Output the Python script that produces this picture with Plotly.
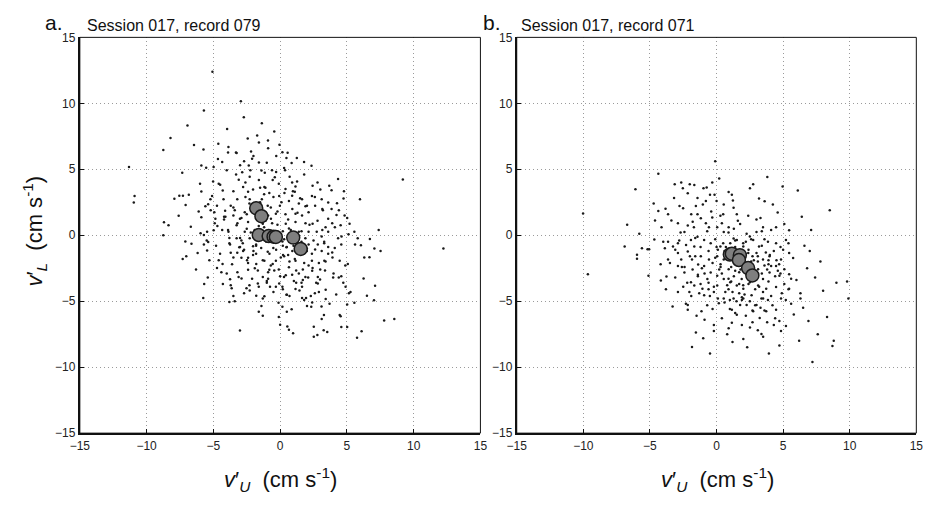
import plotly.graph_objects as go

# ---------------- Panel a: Session 017, record 079 ----------------
a_x = [-5.07,-2.94,-5.71,-2.72,-6.94,-1.37,-8.21,-3.97,-8.75,-6.45,-5.74,-0.44,-2.43,-1.72,-1.59,-0.91,-4.63,-3.87,-3.31,-2.18,
       -0.05,0.17,0.56,-11.32,-10.9,-10.96,9.19,12.23,2.35,1.79,4.34,5.98,7.38,6.72,7.52,7.06,6.69,6.25,7.11,7.03,
       6.5,7.79,8.55,5.76,6.1,5.02,4.58,3.53,3.26,2.79,2.52,2.52,0.97,0.66,0.54,0.0,-3.01,-5.76,-5.69,-5.42,
       -7.3,-7.03,-6.18,-6.64,-7.1,-8.75,-8.7,-8.36,-7.6,-7.92,-7.55,-7.28,-7.08,-6.84,-6.69,-5.9,-5.9,-7.33,-5.9,-4.98,
       -5.54,-4.66,-4.34,-4.0,-3.9,-3.26,-2.84,-2.35,-2.23,-1.59,-1.15,-0.61,-0.29,0.47,0.37,0.86,1.27,0.71,1.25,2.43,
       2.38,3.01,3.68,3.85,4.78,4.75,4.26,3.6,3.16,4.83,4.22,5.02,4.53,3.6,3.16,5.12,5.61,6.05,6.3,5.07,
       4.88,4.58,4.39,3.97,4.73,5.15,5.27,5.56,5.02,4.46,4.53,3.41,3.41,3.28,3.11,2.33,2.01,1.94,1.64,1.15,
       0.86,0.47,0.17,-0.12,-0.32,-0.07,0.29,0.42,-1.4,-1.18,-1.79,-1.67,-2.28,-2.7,-2.52,-3.63,-3.8,-4.29,-3.75,-3.11,
       -2.89,-2.4,-1.67,-1.3,-0.81,-0.56,-4.73,-4.31,-5.47,-5.39,-5.71,-5.96,-5.47,-4.98,-4.85,-4.34,-3.87,-3.75,-3.7,-3.5,
       -3.21,-3.06,-2.77,-2.48,-2.03,-1.79,-1.18,-0.93,-0.51,-0.32,0.05,0.22,0.47,0.91,1.15,0.66,1.2,1.03,1.89,2.13,
       2.38,2.38,2.62,2.82,3.11,3.31,3.6,3.92,4.09,4.58,4.34,3.11,2.13,1.89,2.43,2.13,2.01,1.64,0.91,0.66,
       -0.02,-0.32,-0.07,0.32,0.96,1.15,1.64,-0.81,-1.18,-0.56,-1.59,-2.28,-2.77,-3.5,-3.21,-3.7,-4.12,-3.5,-3.01,-3.26,
       -2.4,-2.65,-2.28,-2.03,-1.37,-0.93,-0.69,-1.3,0.42,0.66,1.15,1.4,-4.73,-4.93,-5.22,-5.39,-5.1,-4.49,-5.02,-4.24,
       -5.71,-3.26,-2.28,-2.65,-2.03,-1.42,-1.05,0.17,0.66,2.13,2.74,3.6,3.85,3.11,2.62,1.15,-0.81,5.56,5.2,5.81,
       4.46,3.36,2.82,2.82,2.99,2.43,1.64,1.45,0.51,-0.44,-1.0,-0.76,0.17,
       -1.2,-0.6,0.3,-2.5,-1.8,0.8,1.6,-0.3,1.2,-2.9,-3.4,-1.5,0.4,1.9,2.9,-0.9,-2.1,0.9,1.7,-4.5,
       -4.2,3.4,2.6,-2.6,-1.0,1.8,-0.1,-3.0,0.2,-0.7,
       -4.6,-4.1,-3.8,-3.3,-2.9,-2.6,-2.2,-1.9,-1.5,-1.1,-0.8,-0.4,0.1,0.5,0.9,1.3,1.8,2.2,2.7,3.2,
       -4.4,-3.9,-3.5,-3.0,-2.5,-2.0,-1.6,-1.2,-0.7,-0.2,0.3,0.8,1.4,1.9,2.5,3.0,3.6,4.1,-5.2,-4.8,
       -4.3,-3.6,-3.1,-2.7,-2.3,-1.7,-1.3,-0.9,-0.5,0.0,0.6,1.1,1.6,2.1,2.8,3.4,4.0,4.6,-5.5,-6.1,
       -3.7,-3.2,-2.8,-2.4,-1.8,-1.4,-1.0,-0.6,-0.1,0.4,1.0,1.5,2.0,2.6,3.3,3.9,-4.0,-4.7,-5.3,-6.0,
       -2.1,-1.6,-0.3,0.7,1.7,2.4,-3.4,-2.7,-1.3,0.2,1.2,2.9,3.7,-0.9,-2.4,-4.2,-1.9,0.5,1.8,4.4,
       -1.4,-0.7,0.2,1.1,2.0,-2.9,-3.8,-4.6,-2.3,-1.1,0.6,1.4,2.4,3.3,4.2,-0.2,-1.8,-3.2,-0.5,0.9,
       1.6,2.3,-2.4,-3.5,-4.9,-5.6,-6.3,-1.3,-0.1,0.7,3.1,3.9,4.9,-2.0,-0.9,-3.0,0.3,1.1,-1.6,2.8]
a_y = [12.4,10.15,9.46,8.95,8.31,8.48,7.38,8.06,6.47,6.84,6.5,7.87,7.33,7.57,7.03,7.18,6.94,6.69,6.27,6.35,
       6.86,6.3,6.25,5.17,2.97,2.48,4.22,-1.0,5.27,5.56,4.26,2.72,0.39,-0.29,-1.2,-1.0,-1.67,-3.28,-3.82,-4.93,
       -4.58,-6.47,-6.35,-7.77,-7.28,-6.96,-6.96,-7.33,-7.2,-7.57,-7.7,-6.94,-7.43,-7.16,-6.91,-6.79,-7.23,-4.75,-3.7,-3.21,
       -1.81,-1.59,-1.35,-0.64,-0.47,0.0,0.98,0.76,1.47,2.77,2.99,2.99,2.3,3.06,0.64,1.37,3.31,4.73,5.29,5.17,
       5.12,5.78,5.56,4.93,6.27,6.23,4.78,5.29,4.93,5.51,4.73,4.93,6.0,5.86,4.93,5.47,4.07,4.44,5.86,3.75,
       2.97,3.46,3.75,3.41,3.33,2.79,2.43,2.48,1.99,1.5,1.54,1.3,0.76,0.27,0.39,0.07,-0.71,-0.76,-1.69,-2.18,
       -2.3,-3.11,-3.21,-3.21,-3.6,-4.39,-4.31,-5.12,-5.25,-6.05,-6.15,-4.83,-4.14,-6.05,-6.35,-5.42,-5.37,-4.75,-4.75,-4.07,
       -5.61,-4.51,-5.42,-5.12,-3.9,-3.65,-3.16,-3.04,-5.37,-4.63,-4.58,-3.65,-4.19,-4.39,-4.02,-4.02,-5.07,-3.7,-3.33,-3.16,
       -3.28,-2.62,-2.67,-3.16,-2.62,-2.18,-2.48,-2.18,-1.15,-0.51,-0.71,0.15,0.27,0.37,1.25,0.39,0.27,-0.71,-1.32,-1.69,
       -1.32,-0.91,-1.2,-1.89,-1.5,-2.18,-1.94,-1.25,-0.96,-1.94,-1.69,-1.5,-0.91,-1.2,-1.94,-2.43,-2.67,-3.46,-3.16,-2.3,
       -1.94,-1.4,-1.08,-0.71,-1.2,-1.94,-1.4,-1.69,-0.96,-0.71,-0.22,-0.1,0.27,-0.22,0.88,1.74,2.23,1.5,1.99,2.6,
       2.23,1.62,2.97,3.21,3.33,3.7,2.72,3.21,3.65,4.19,4.19,4.44,3.65,3.33,2.72,2.23,1.86,1.5,1.25,0.76,
       1.0,1.74,2.72,3.46,2.72,2.23,1.25,0.88,0.88,0.51,1.0,0.27,2.23,1.74,2.72,2.35,2.97,3.82,4.07,2.72,
       0.02,-0.22,-0.22,0.27,-0.83,-0.96,-0.47,-0.47,-0.22,-0.71,0.27,1.25,1.99,2.72,2.23,1.62,0.27,0.27,0.88,-0.22,
       -1.94,-2.67,-3.16,-3.65,-3.36,-2.48,-3.9,-4.19,-4.51,-2.67,-3.46,-3.9,-3.9,
       0.6,0.9,-0.3,0.5,-0.8,0.4,-0.5,-1.1,-1.0,-0.4,1.9,2.5,1.6,0.9,-2.1,-2.8,-3.3,-3.0,-2.6,-1.4,
       1.2,0.6,2.9,4.0,5.5,4.6,3.9,5.3,0.3,-0.5,
       3.9,1.4,-0.6,4.6,-1.7,2.9,0.2,-2.5,3.6,1.1,-1.4,4.4,2.5,-0.9,3.0,1.7,-2.1,0.8,-3.6,1.9,
       -2.8,0.4,2.1,-0.2,1.6,-1.2,0.7,3.1,-2.3,1.8,-1.6,0.1,-2.9,2.2,-0.4,-2.6,-0.9,0.6,1.9,-0.8,
       3.4,-2.2,4.2,-1.1,2.4,-0.3,-1.9,1.5,2.9,-3.1,1.2,-1.8,0.3,-3.2,1.1,-2.0,-2.9,-0.1,-0.4,1.8,
       -3.8,0.9,-0.6,3.3,-1.4,4.9,-3.6,-0.1,-2.6,3.5,-0.8,2.8,-1.0,-4.4,-0.6,0.9,-2.9,0.7,-1.9,3.9,
       5.8,-3.9,4.8,-4.6,-3.4,-5.1,-5.0,5.6,-4.8,-4.1,-3.6,-4.3,-5.2,-3.3,-2.1,1.4,0.4,-5.8,-4.9,1.9,
       1.0,2.1,-0.8,-0.4,-1.2,1.3,-0.2,-1.9,-3.8,3.6,-1.5,2.4,-2.7,-0.5,-4.5,0.8,-0.7,-2.8,-4.3,4.0,
       -3.6,-4.6,-1.7,-4.6,0.9,2.2,-2.6,-6.1,-6.2,-2.0,-5.4,-1.3,-3.9,6.0,6.6,-0.9,5.1,3.3,-5.8,4.0]
# large grey circles, panel a
a_cx = [-1.79,-1.4,-1.6,-0.86,-0.49,-0.32,0.98,1.54]
a_cy = [2.05,1.44,0.02,-0.06,-0.11,-0.13,-0.18,-1.04]

# ---------------- Panel b: Session 017, record 071 ----------------
b_x = [-4.37,-6.09,-10.02,-6.71,-9.66,-6.9,-5.97,-5.97,-5.6,-5.18,-5.06,-5.8,-5.11,-4.18,-3.76,-2.9,-4.72,-4.37,-3.83,-4.67,
       -4.0,-3.64,-3.88,-3.39,-3.14,-2.65,-2.01,-1.67,-2.53,-2.16,-3.19,-2.78,-2.51,-2.9,-2.16,-2.41,-1.79,-1.43,-1.18,-0.98,
       -0.74,-1.43,-1.03,-1.55,-0.49,-0.15,0.2,-0.32,0.91,1.15,1.23,0.54,1.28,1.52,0.29,-0.32,-0.57,0.05,0.54,0.91,
       1.77,2.38,2.51,2.75,3.19,3.61,3.81,4.23,4.59,4.96,5.09,5.45,4.47,3.49,3.0,2.26,2.75,3.19,3.86,4.47,
       5.21,5.75,5.45,4.84,4.47,5.09,5.45,4.72,3.98,3.49,3.12,3.73,4.47,5.09,5.45,4.84,3.86,3.37,2.63,2.26,
       2.75,3.24,3.73,4.47,4.72,4.84,5.21,3.37,2.51,2.01,1.15,0.91,0.17,-0.2,-1.55,-1.84,-0.49,3.93,4.72,1.15,
       1.52,1.77,0.54,-0.2,-0.93,-1.13,-2.16,-2.16,-2.04,-1.67,-1.06,-1.92,-2.9,-2.41,-2.65,-2.16,-1.67,-2.9,-3.27,-1.18,
       -0.57,-0.93,-0.44,0.05,0.54,1.03,1.52,2.01,1.89,2.51,0.91,0.54,0.05,0.29,-0.44,-0.93,1.03,1.52,2.01,3.0,
       3.49,3.98,4.1,2.51,3.12,2.01,1.52,0.05,-0.69,0.66,1.28,2.01,3.0,3.49,0.91,2.38,1.28,-1.43,-1.92,-2.29,
       -1.38,-1.84,-3.64,-2.9,-4.62,-3.64,-4.13,
       9.9,9.8,8.8,8.7,8.3,7.6,7.2,8.5,7.4,6.8,7.1,6.5,6.2,7.8,6.4,7.0,6.3,6.9,8.0,9.0,
       6.1,-0.1,
       0.6,1.4,2.2,2.8,3.4,1.1,0.3,-0.6,-1.2,2.6,3.9,1.7,0.8,-0.2,2.9,4.3,3.6,0.9,-0.1,1.9,
       2.4,3.1,1.3,-0.9,-1.6,-2.4,4.1,2.2,0.4,-0.7,1.6,-0.8,3.3,4.8,5.6,-1.9,-3.1,0.1,1.0,3.8,
       -3.5,-2.8,-2.2,-1.7,-1.1,-0.6,-0.1,0.4,0.9,1.4,1.9,2.4,2.9,3.4,3.9,4.4,4.9,5.4,-3.1,-2.5,
       -1.9,-1.4,-0.8,-0.3,0.2,0.7,1.2,1.7,2.2,2.7,3.2,3.7,4.2,4.7,5.2,-2.3,-1.3,-0.4,0.6,1.6,
       2.6,3.6,4.6,-2.6,-1.6,-0.6,0.4,1.4,2.4,3.4,4.4,5.4,-0.9,0.1,1.1,2.1,3.1,4.1,1.8,2.8,
       0.9,1.9,2.9,3.9,-1.5,-0.5,0.5,1.5,2.5,3.5,6.0,6.6,5.8,-4.2,-3.3,0.0,1.2,2.3,3.0,-1.0,
       0.3,1.1,1.9,2.7,3.5,0.7,1.5,2.3,3.1,-0.3,-1.2,4.0,4.8,5.6,-2.0,0.0,1.3,2.0,2.7,3.8,
       -2.7,-1.8,-0.7,0.5,1.7,2.5,3.3,4.5,-3.8,-0.2,0.8,2.0,3.6,4.3,1.0,-1.4,5.0,6.3,2.6,1.4]
b_y = [4.67,3.49,1.65,0.79,-2.95,-0.86,-1.47,-1.79,-0.98,-1.06,-1.06,0.12,-3.07,-3.44,-3.12,-4.3,2.41,1.84,2.01,-0.32,
       -0.49,-0.49,-0.98,1.11,3.86,4.0,3.86,3.81,3.56,3.19,2.83,2.21,2.04,0.91,0.74,0.25,1.03,1.6,1.28,3.56,
       3.61,2.83,2.33,2.21,3.07,3.07,4.3,4.0,3.27,3.07,2.63,2.33,2.09,1.6,1.47,1.35,0.61,0.61,0.25,0.61,
       0.86,1.47,3.56,3.86,2.78,2.58,4.42,2.33,1.72,3.69,0.86,0.37,0.61,0.61,0.25,0.12,-0.37,-0.86,-0.49,-0.61,
       -0.37,-1.72,-1.35,-1.84,-2.33,-2.58,-2.95,-3.07,-2.83,-3.32,-3.81,-4.05,-3.93,-3.69,-4.05,-4.79,-4.91,-4.79,-4.55,-5.28,
       -5.77,-6.27,-5.77,-5.65,-6.51,-7.25,-6.88,-7.49,-7.0,-7.86,-6.63,-7.05,-5.16,-7.25,-7.37,-8.48,-8.97,-8.97,-8.35,-5.65,
       -6.02,-5.28,-4.79,-4.3,-4.55,-5.77,-5.65,-5.28,-4.3,-3.81,-4.05,-3.56,-2.33,-2.83,-1.84,-1.23,-0.86,-1.35,-0.86,-1.6,
       -1.84,-2.33,-2.83,-3.07,-3.32,-3.56,-3.81,-4.05,-3.32,-3.56,-2.58,-1.84,-1.6,-0.86,-0.61,-0.37,-0.61,-0.37,-0.86,-1.35,
       -1.84,-1.6,-2.33,-2.09,-2.58,-2.58,-2.09,-3.81,-3.32,-4.3,-4.79,-4.79,-5.28,-4.3,-1.11,-1.35,-0.25,-0.12,-0.37,-0.74,
       -2.21,-1.84,-1.84,-0.61,1.11,1.6,0.61,
       -4.8,-3.5,-8.0,-8.4,-6.2,-7.5,-9.6,1.9,-3.2,-2.5,0.4,-5.5,-8.0,-2.0,1.4,-1.2,-4.4,-6.5,-4.2,-3.6,
       3.4,5.6,
       -1.2,-0.9,-0.5,-1.9,-2.9,-2.4,-2.2,-1.2,-0.9,-3.1,-3.5,-4.4,-3.8,-3.9,-4.1,-1.2,-0.3,0.2,-0.3,-1.2,
       -2.3,-1.6,-3.1,-2.9,-1.6,-2.4,-4.6,-6.1,-6.3,-5.3,1.1,0.9,1.3,-0.9,-3.3,-4.6,-3.2,-4.8,-5.6,-6.6,
       -2.1,-0.4,-3.6,0.6,-2.5,-4.1,-1.7,0.9,-3.3,-0.4,-4.9,-1.1,-2.9,0.3,-1.9,-3.1,-4.4,-0.6,-1.1,-3.9,
       1.6,-3.0,2.6,-5.6,-2.6,-0.9,-4.3,-2.8,-1.4,-6.6,-3.9,-1.3,-5.3,-2.2,-4.9,-5.2,-4.4,1.8,-5.1,-2.0,
       -0.3,-5.7,-2.7,-2.4,-0.2,-3.6,-2.9,-5.9,-3.7,-0.8,-6.3,-4.1,-6.4,-1.1,-1.8,-4.5,-7.2,0.4,-2.6,-3.4,
       -4.1,-6.8,-5.3,-2.2,-6.1,-4.6,1.6,-1.3,-0.1,-7.7,-3.4,-0.8,-6.0,-2.2,-5.4,2.6,-8.1,-8.5,1.2,-7.8,
       -2.4,-3.5,-4.7,-1.6,-4.8,-1.5,-5.0,-2.9,-2.0,-2.1,-3.7,-1.5,-2.9,-5.2,-1.6,-0.9,0.5,-3.8,-5.7,-2.6,
       0.2,-2.6,0.3,-0.6,-3.7,-5.0,-5.5,-1.9,-4.1,-6.8,-7.5,-0.6,-2.3,-6.8,-4.9,-3.1,-1.1,-4.8,-2.0,-2.7]
# large grey circles, panel b
b_cx = [1.0,1.15,1.75,1.68,2.37,2.69]
b_cy = [-1.46,-1.4,-1.51,-1.88,-2.49,-3.05]

titles = ["Session 017, record 079", "Session 017, record 071"]
panel_letters = ["a.", "b."]
ticks = [-15, -10, -5, 0, 5, 10, 15]

FONT = "Liberation Sans, Arial, sans-serif"
W, H = 933, 507
OFF = 8  # page body margin


def px(p):
    return (p - OFF) / W


def py(p):
    return 1 - (p - OFF) / H


fig = go.Figure()

for i, (dx, dy, cx, cy) in enumerate([(a_x, a_y, a_cx, a_cy), (b_x, b_y, b_cx, b_cy)]):
    xa = "x" if i == 0 else "x2"
    ya = "y" if i == 0 else "y2"
    fig.add_trace(go.Scatter(x=dx, y=dy, mode="markers", xaxis=xa, yaxis=ya,
                             marker=dict(size=2.5, color="#1a1a1a"), showlegend=False, hoverinfo="skip"))
    fig.add_trace(go.Scatter(x=cx, y=cy, mode="markers", xaxis=xa, yaxis=ya,
                             marker=dict(size=13, color="#7f7f7f", line=dict(color="#1a1a1a", width=1.5)),
                             showlegend=False, hoverinfo="skip"))

dom_x = [[px(71), px(479)], [px(516), px(923)]]
dom_y = [py(438), py(31)]

axis_common = dict(range=[-15, 15], tickvals=ticks, ticktext=[str(t).replace("-", "\u2212") for t in ticks],
                   showgrid=True, gridcolor="#9a9a9a", griddash="1px,3px", gridwidth=1,
                   zeroline=False, showline=True, linecolor="#111", linewidth=2,
                   ticks="inside", ticklen=4, tickcolor="#111",
                   tickfont=dict(family=FONT, size=12, color="#222"))

fig.update_layout(
    xaxis=dict(domain=dom_x[0], anchor="y", **axis_common),
    yaxis=dict(domain=dom_y, anchor="x", **axis_common),
    xaxis2=dict(domain=dom_x[1], anchor="y2", **axis_common),
    yaxis2=dict(domain=dom_y, anchor="x2", **axis_common),
)

shapes = []
for xr, yr in [("x domain", "y domain"), ("x2 domain", "y2 domain")]:
    shapes.append(dict(type="rect", xref=xr, yref=yr, x0=0, x1=1, y0=0, y1=1,
                       line=dict(color="#111", width=1), layer="above"))

annotations = []
letter_x = [34, 481]
title_x = [76, 518]
for i in range(2):
    annotations.append(dict(text=panel_letters[i], x=px(letter_x[i]), y=py(16), xref="paper", yref="paper",
                            xanchor="left", yanchor="middle", showarrow=False, borderpad=0,
                            font=dict(family=FONT, size=21, color="#111")))
    annotations.append(dict(text=titles[i], x=px(title_x[i]), y=py(19), xref="paper", yref="paper",
                            xanchor="left", yanchor="middle", showarrow=False,
                            font=dict(family=FONT, size=16, color="#111")))

xlab = "<i>v</i>\u2032<sub><i>U</i></sub>  (cm s<sup>-1</sup>)"
ylab = "<i>v</i>\u2032<sub><i>L</i></sub>  (cm s<sup>-1</sup>)"
for cxp in [275, 720]:
    annotations.append(dict(text=xlab, x=px(cxp), y=py(486), xref="paper", yref="paper",
                            xanchor="center", yanchor="middle", showarrow=False,
                            font=dict(family=FONT, size=22, color="#111")))
annotations.append(dict(text=ylab, x=px(25), y=py(230), xref="paper", yref="paper",
                        xanchor="center", yanchor="middle", showarrow=False, textangle=-90,
                        font=dict(family=FONT, size=22, color="#111")))

fig.update_layout(width=W, height=H, autosize=False,
                  margin=dict(l=0, r=0, t=0, b=0),
                  paper_bgcolor="white", plot_bgcolor="white",
                  shapes=shapes, annotations=annotations)

fig.write_html("out.html")
